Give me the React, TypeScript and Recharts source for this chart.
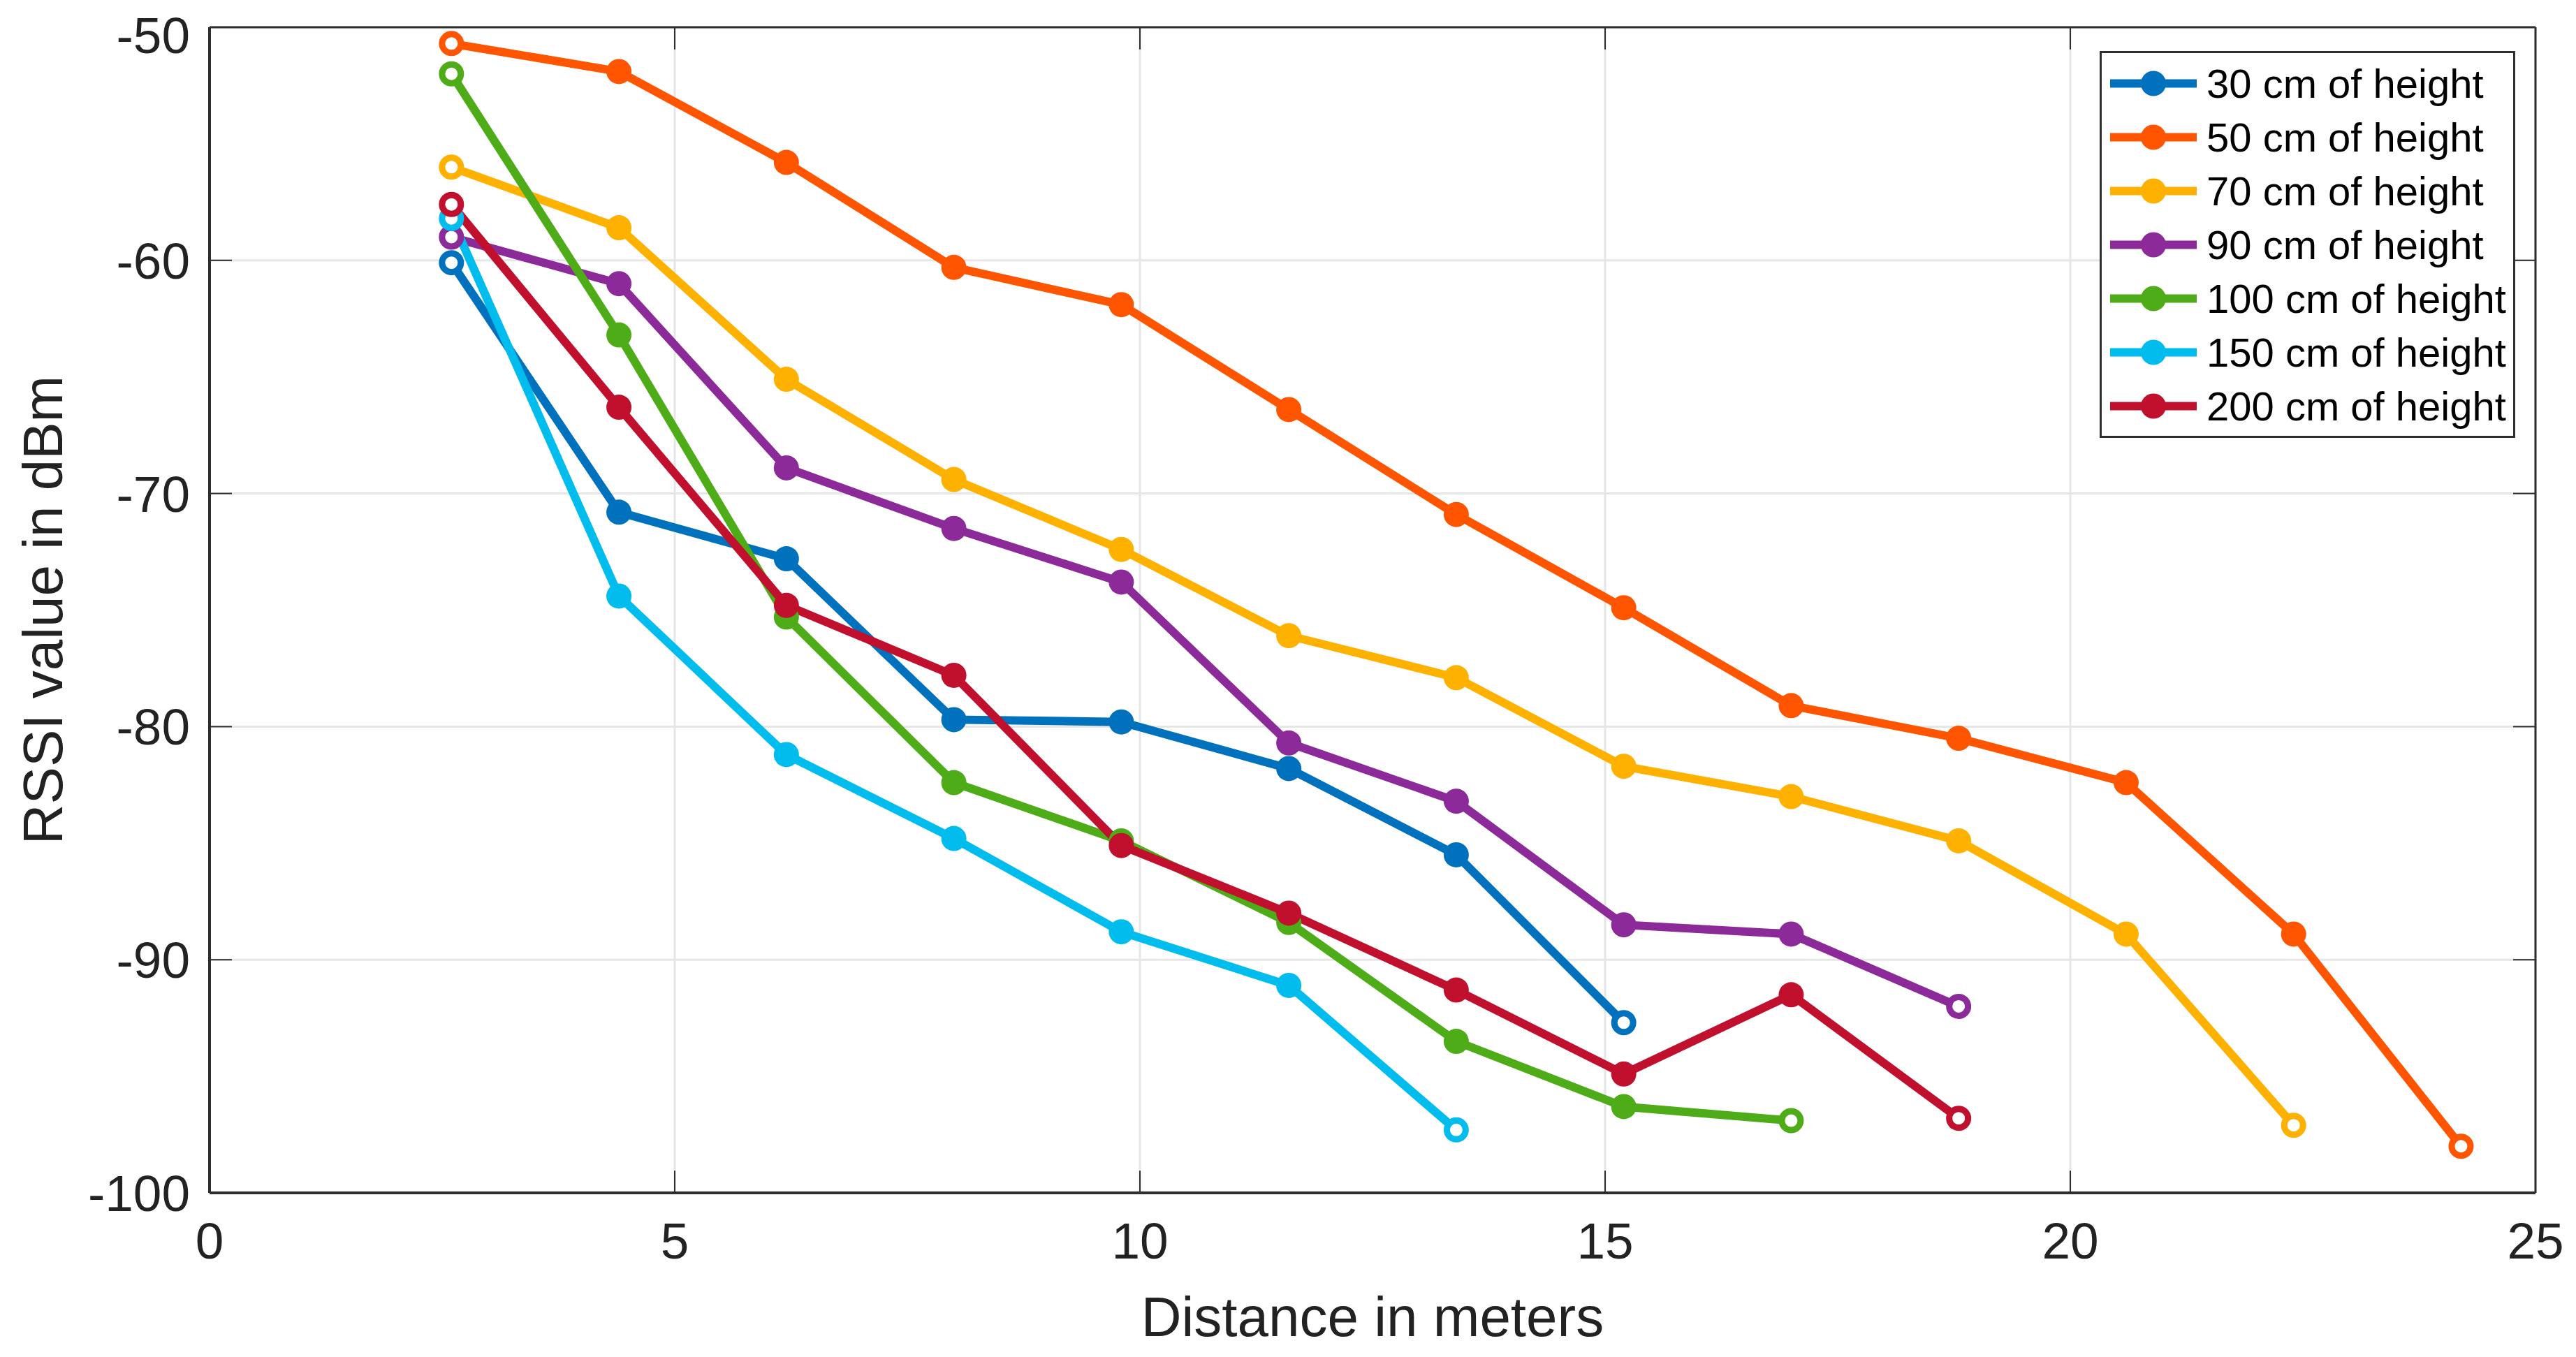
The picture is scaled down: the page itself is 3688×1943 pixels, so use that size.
import {
  LineChart,
  Line,
  XAxis,
  YAxis,
  CartesianGrid,
  ReferenceLine,
  Legend,
} from "recharts";

// distances (m) at which RSSI was sampled
const distances = [2.6, 4.4, 6.2, 8.0, 9.8, 11.6, 13.4, 15.2, 17.0, 18.8, 20.6, 22.4, 24.2];

const rssi30 = [-60.1, -70.8, -72.8, -79.7, -79.8, -81.8, -85.5, -92.7];
const rssi50 = [-50.7, -51.9, -55.8, -60.3, -61.9, -66.4, -70.9, -74.9, -79.1, -80.5, -82.4, -88.9, -98.0];
const rssi70 = [-56.0, -58.6, -65.1, -69.4, -72.4, -76.1, -77.9, -81.7, -83.0, -84.9, -88.9, -97.1];
const rssi90 = [-59.0, -61.0, -68.9, -71.5, -73.8, -80.7, -83.2, -88.5, -88.9, -92.0];
const rssi100 = [-52.0, -63.2, -75.3, -82.4, -84.9, -88.4, -93.5, -96.3, -96.9];
const rssi150 = [-58.2, -74.4, -81.2, -84.8, -88.8, -91.1, -97.3];
const rssi200 = [-57.6, -66.3, -74.8, -77.8, -85.1, -88.0, -91.3, -94.9, -91.5, -96.8];

const xTicks = [0, 5, 10, 15, 20, 25];
const yTicks = [-100, -90, -80, -70, -60, -50];

const series = [
  { name: "30 cm of height", color: "#0072BD", values: rssi30 },
  { name: "50 cm of height", color: "#FF5500", values: rssi50 },
  { name: "70 cm of height", color: "#FFB100", values: rssi70 },
  { name: "90 cm of height", color: "#8B2A98", values: rssi90 },
  { name: "100 cm of height", color: "#4EAC18", values: rssi100 },
  { name: "150 cm of height", color: "#00BDEE", values: rssi150 },
  { name: "200 cm of height", color: "#C0102E", values: rssi200 },
];

const FONT = '"Liberation Sans", Arial, sans-serif';
const AXIS = "#2e2e2e";

function makeDot(color: string, count: number) {
  return (props: any) => {
    const { cx, cy, index } = props;
    if (cx == null || cy == null) return <g key={`d-${index}`} />;
    const hollow = index === 0 || index === count - 1;
    if (hollow) {
      return (
        <circle key={`d-${index}`} cx={cx} cy={cy} r={13.5} fill="#fff" stroke={color} strokeWidth={9} />
      );
    }
    return <circle key={`d-${index}`} cx={cx} cy={cy} r={18} fill={color} stroke="none" />;
  };
}

function LegendBox() {
  return (
    <div
      style={{
        boxSizing: "border-box",
        width: 595,
        height: 554,
        border: `3px solid ${AXIS}`,
        background: "#fff",
        padding: "5px 0",
        fontFamily: FONT,
        fontSize: 58,
        color: "#000",
      }}
    >
      {series.map((s) => (
        <div key={s.name} style={{ height: 77, display: "flex", alignItems: "center" }}>
          <svg width={150} height={77} style={{ flex: "none" }}>
            <line x1={12} y1={38.5} x2={136} y2={38.5} stroke={s.color} strokeWidth={12} />
            <circle cx={74} cy={38.5} r={18} fill={s.color} />
          </svg>
          <span style={{ whiteSpace: "nowrap", lineHeight: 1 }}>{s.name}</span>
        </div>
      ))}
    </div>
  );
}

export default function App() {
  const tickStyle = { fill: "#222", fontSize: 73, fontFamily: FONT };
  return (
    <LineChart
      width={3672}
      height={1927}
      margin={{ top: 31, right: 50, bottom: 0, left: 0 }}
      style={{ fontFamily: FONT }}
    >
      <CartesianGrid stroke="#e6e6e6" strokeWidth={3} horizontalValues={yTicks} verticalValues={xTicks} />
      <XAxis
        dataKey="x"
        type="number"
        domain={[0, 25]}
        ticks={xTicks}
        allowDataOverflow
        height={227}
        tickSize={0}
        tickMargin={42}
        tick={tickStyle}
        axisLine={{ stroke: AXIS, strokeWidth: 4 }}
        tickLine={false}
        label={{
          value: "Distance in meters",
          position: "insideBottom",
          offset: 22,
          style: { fill: "#222", fontSize: 80, fontFamily: FONT },
        }}
      />
      <YAxis
        type="number"
        domain={[-100, -50]}
        ticks={yTicks}
        allowDataOverflow
        width={292}
        tickSize={0}
        tickMargin={28}
        tick={tickStyle}
        axisLine={{ stroke: AXIS, strokeWidth: 4 }}
        tickLine={false}
        label={{
          value: "RSSI value in dBm",
          angle: -90,
          position: "insideLeft",
          offset: 53,
          style: { fill: "#222", fontSize: 80, fontFamily: FONT, textAnchor: "middle" },
        }}
      />
      <ReferenceLine y={-50} stroke={AXIS} strokeWidth={3} />
      <ReferenceLine x={25} stroke={AXIS} strokeWidth={3} />
      {xTicks.slice(1, -1).map((t) => (
        <ReferenceLine
          key={`xb-${t}`}
          segment={[{ x: t, y: -100 }, { x: t, y: -99.05 }]}
          stroke={AXIS}
          strokeWidth={2}
        />
      ))}
      {xTicks.slice(1, -1).map((t) => (
        <ReferenceLine
          key={`xt-${t}`}
          segment={[{ x: t, y: -50 }, { x: t, y: -50.95 }]}
          stroke={AXIS}
          strokeWidth={2}
        />
      ))}
      {yTicks.slice(1, -1).map((t) => (
        <ReferenceLine
          key={`yl-${t}`}
          segment={[{ x: 0, y: t }, { x: 0.24, y: t }]}
          stroke={AXIS}
          strokeWidth={2}
        />
      ))}
      {yTicks.slice(1, -1).map((t) => (
        <ReferenceLine
          key={`yr-${t}`}
          segment={[{ x: 25, y: t }, { x: 24.76, y: t }]}
          stroke={AXIS}
          strokeWidth={2}
        />
      ))}
      {series.map((s) => (
        <Line
          key={s.name}
          name={s.name}
          data={s.values.map((v, i) => ({ x: distances[i], y: v }))}
          dataKey="y"
          type="linear"
          stroke={s.color}
          strokeWidth={12}
          dot={makeDot(s.color, s.values.length)}
          activeDot={false}
          isAnimationActive={false}
        />
      ))}
      <Legend
        layout="vertical"
        align="center"
        verticalAlign="middle"
        content={() => <LegendBox />}
        wrapperStyle={{ position: "absolute", left: 2998, top: 65, width: 595, height: 554 }}
      />
    </LineChart>
  );
}
